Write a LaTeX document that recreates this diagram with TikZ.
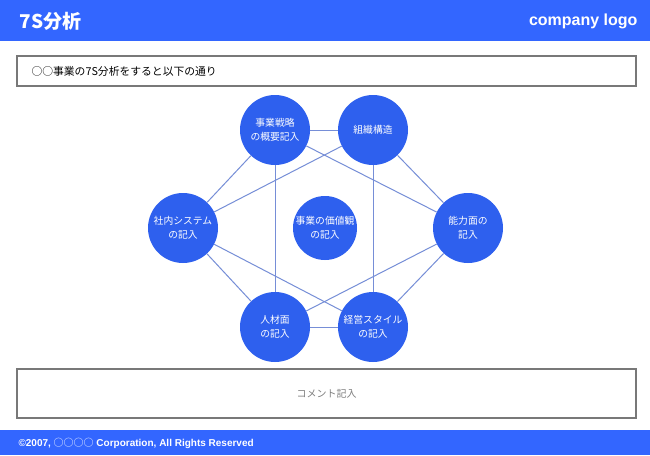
\documentclass[tikz,border=0pt]{standalone}
\usepackage{fontspec}
\setmainfont{Liberation Sans}
\newfontfamily\jp{Noto Sans CJK JP}
\usetikzlibrary{positioning}

\definecolor{barblue}{RGB}{51,102,255}
\definecolor{sblue}{RGB}{46,96,238}
\definecolor{linkblue}{RGB}{118,142,215}
\definecolor{framegray}{RGB}{120,120,120}

\tikzset{
	sbubble/.style={circle,fill=sblue,minimum size=70pt,inner sep=0pt,
		text=white,align=center,font=\jp\fontsize{9.8}{14}\selectfont},
	link/.style={draw=linkblue,line width=1pt},
	frame/.style={draw=framegray,line width=1.2pt,fill=white}
}

\begin{document}
\begin{tikzpicture}[x=1pt,y=-1pt,node distance=100pt,on grid]
	\useasboundingbox (0,0) rectangle (650,455);
	\fill[white] (0,0) rectangle (650,455);

	% header and footer bars
	\fill[barblue] (0,0) rectangle (650,41);
	\node[anchor=west,text=white,font=\jp\bfseries\fontsize{19}{20}\selectfont] (title) at (16,21) {7S分析};
	\node[anchor=east,text=white,font=\bfseries\fontsize{16}{18}\selectfont] (logo) at (641,21) {company logo};
	\fill[barblue] (0,430) rectangle (650,455);
	\node[anchor=west,text=white,font=\bfseries\fontsize{10}{12}\selectfont] (copy) at (15,443)
		{©2007, {\jp\mdseries ○○○○} Corporation, All Rights Reserved};

	% text boxes
	\draw[frame] (17,56) rectangle (636,86);
	\node[anchor=west,font=\jp\fontsize{10.8}{12}\selectfont] (lead) at (28,71) {○○事業の7S分析をすると以下の通り};
	\draw[frame] (17,369) rectangle (636,418);
	\node[text=gray,font=\jp\fontsize{10}{12}\selectfont] (comment) at (326.5,393.5) {コメント記入};

	% the seven S
	\node[sbubble,minimum size=64pt] (values) at (325,228) {事業の価値観\\の記入};
	\node[sbubble] (systems) [left=142pt of values] {社内システム\\の記入};
	\node[sbubble] (skills) [right=143pt of values] {能力面の\\記入};
	\node[sbubble] (strategy) [above left=98pt and 50pt of values] {事業戦略\\の概要記入};
	\node[sbubble] (structure) [above right=98pt and 48pt of values] {組織構造};
	\node[sbubble] (staff) [below left=99pt and 50pt of values] {人材面\\の記入};
	\node[sbubble] (style) [below right=99pt and 48pt of values] {経営スタイル\\の記入};

	\path[link]
	(strategy) edge (structure)
	           edge (systems)
	           edge (staff)
	           edge (skills)

	(structure) edge (skills)
	            edge (style)
	            edge (systems)

	(systems) edge (staff)
	          edge (style)

	(skills) edge (style)
	         edge (staff)

	(staff) edge (style);

\end{tikzpicture}
\end{document}
